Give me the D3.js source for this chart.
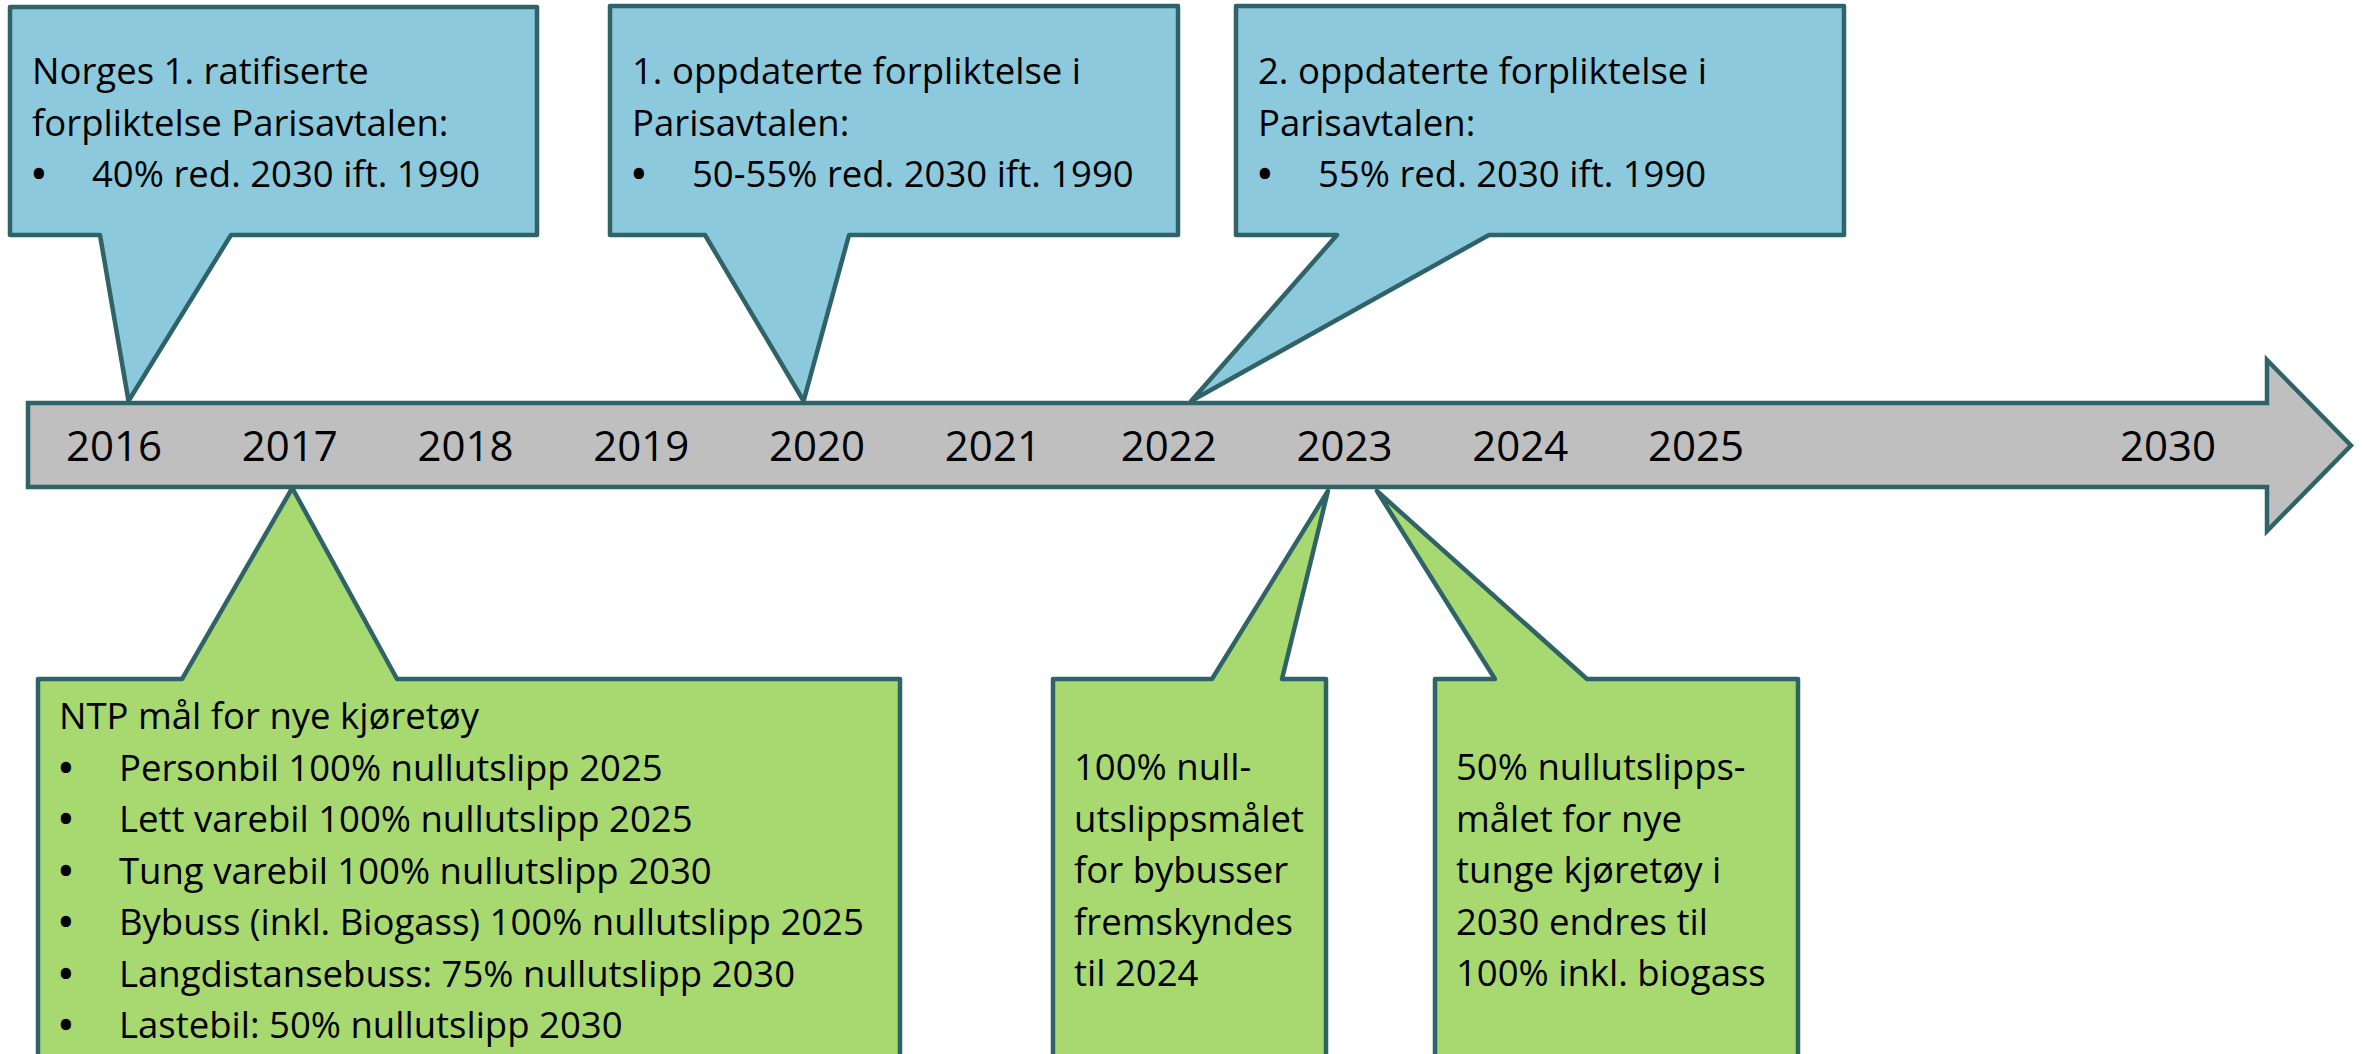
<!DOCTYPE html>
<html>
<head>
<meta charset="utf-8">
<script src="https://cdn.jsdelivr.net/npm/d3@7"></script>
<style>
    body { margin: 0; background: #fff; }
    svg { display: block; }
    text { font-family: "Open Sans", Lato, sans-serif; fill: #000; }
</style>
</head>
<body>
<div id="chart"></div>
<script>
// ---- data ----
const years = [2016, 2017, 2018, 2019, 2020, 2021, 2022, 2023, 2024, 2025, 2030];

const topYears = [2016, 2020, 2022];
const topHeads = [
    ["Norges 1. ratifiserte", "forpliktelse Parisavtalen:"],
    ["1. oppdaterte forpliktelse i", "Parisavtalen:"],
    ["2. oppdaterte forpliktelse i", "Parisavtalen:"]
];
const topBullets = [
    ["40% red. 2030 ift. 1990"],
    ["50-55% red. 2030 ift. 1990"],
    ["55% red. 2030 ift. 1990"]
];

const bottomYears = [2017, 2023, 2023];
const bottomHeads = [
    ["NTP mål for nye kjøretøy"],
    ["100% null-", "utslippsmålet", "for bybusser", "fremskyndes", "til 2024"],
    ["50% nullutslipps-", "målet for nye", "tunge kjøretøy i", "2030 endres til", "100% inkl. biogass"]
];
const bottomBullets = [
    ["Personbil 100% nullutslipp 2025",
     "Lett varebil 100% nullutslipp 2025",
     "Tung varebil 100% nullutslipp 2030",
     "Bybuss (inkl. Biogass) 100% nullutslipp 2025",
     "Langdistansebuss: 75% nullutslipp 2030",
     "Lastebil: 50% nullutslipp 2030"],
    [],
    []
];

// ---- layout ----
const width = 2364, height = 1054;
const stroke = "#2f6367";
const blue = "#8dc9dc";
const green = "#a7d970";
const lineH = 51.5;
const fontSize = 36.5;

const svg = d3.select("#chart").append("svg")
    .attr("width", width)
    .attr("height", height);

// timeline scale: evenly spaced to 2025, then a compressed jump to 2030
const x = d3.scaleLinear()
    .domain([2016, 2025, 2030])
    .range([113.5, 1695.5, 2167.5]);

const bar = { left: 28, right: 2267, top: 403, bottom: 487, headTop: 360, headBottom: 531, tip: 2351 };

// callout boxes (box geometry + pointer offsets from the year position)
const topBoxes = [
    { l: 10,   r: 537,  t: 7, b: 235, bl: 100,  br: 231,  dx: 15 },
    { l: 610,  r: 1178, t: 6, b: 235, bl: 705,  br: 849,  dx: -13 },
    { l: 1236, r: 1844, t: 6, b: 235, bl: 1337, br: 1489, dx: 23 }
];
const bottomBoxes = [
    { l: 38,   r: 900,  t: 679, b: 1070, bl: 182,  br: 397,  dx: 3 },
    { l: 1053, r: 1326, t: 679, b: 1070, bl: 1212, br: 1282, dx: -16 },
    { l: 1435, r: 1798, t: 679, b: 1070, bl: 1495, br: 1587, dx: 33 }
];

const calloutG = svg.append("g").attr("class", "callouts");

function addLines(g, heads, bullets, firstY) {
    heads.forEach((line, j) => {
        g.append("text").attr("x", 0).attr("y", firstY + j * lineH)
            .attr("font-size", fontSize).text(line);
    });
    bullets.forEach((line, j) => {
        const y = firstY + (heads.length + j) * lineH;
        g.append("text").attr("x", 0).attr("y", y).attr("font-size", fontSize)
            .attr("font-weight", 700).text("•");
        g.append("text").attr("x", 60).attr("y", y).attr("font-size", fontSize).text(line);
    });
}

// top callouts, pointer goes down to the bar
topBoxes.forEach((b, i) => {
    const tx = x(topYears[i]) + b.dx, ty = bar.top - 2;
    const p = d3.path();
    p.moveTo(b.l, b.t);
    p.lineTo(b.r, b.t);
    p.lineTo(b.r, b.b);
    p.lineTo(b.br, b.b);
    p.lineTo(tx, ty);
    p.lineTo(b.bl, b.b);
    p.lineTo(b.l, b.b);
    p.closePath();
    calloutG.append("path")
        .attr("d", p.toString())
        .attr("fill", blue)
        .attr("stroke", stroke)
        .attr("stroke-width", 4.5)
        .attr("stroke-linejoin", "round");

    const tg = calloutG.append("g").attr("transform", `translate(${b.l + 22}, 0)`);
    addLines(tg, topHeads[i], topBullets[i], 84);
});

// bottom callouts, pointer goes up to the bar
bottomBoxes.forEach((b, i) => {
    const tx = x(bottomYears[i]) + b.dx, ty = i === 0 ? bar.bottom + 1 : bar.bottom + 4;
    const p = d3.path();
    p.moveTo(b.l, b.t);
    p.lineTo(b.bl, b.t);
    p.lineTo(tx, ty);
    p.lineTo(b.br, b.t);
    p.lineTo(b.r, b.t);
    p.lineTo(b.r, b.b);
    p.lineTo(b.l, b.b);
    p.closePath();
    calloutG.append("path")
        .attr("d", p.toString())
        .attr("fill", green)
        .attr("stroke", stroke)
        .attr("stroke-width", 4.5)
        .attr("stroke-linejoin", "round");

    const tg = calloutG.append("g").attr("transform", `translate(${b.l + 21}, 0)`);
    addLines(tg, bottomHeads[i], bottomBullets[i], i === 0 ? 729 : 780);
});

// timeline arrow
const arrow = d3.path();
arrow.moveTo(bar.left, bar.top);
arrow.lineTo(bar.right, bar.top);
arrow.lineTo(bar.right, bar.headTop);
arrow.lineTo(bar.tip, (bar.headTop + bar.headBottom) / 2);
arrow.lineTo(bar.right, bar.headBottom);
arrow.lineTo(bar.right, bar.bottom);
arrow.lineTo(bar.left, bar.bottom);
arrow.closePath();

svg.append("path")
    .attr("d", arrow.toString())
    .attr("fill", "#bfbfbf")
    .attr("stroke", stroke)
    .attr("stroke-width", 4.5);

// year labels via axis
const axis = d3.axisBottom(x)
    .tickValues(years)
    .tickFormat(d3.format("d"))
    .tickSize(0);

const axisG = svg.append("g")
    .attr("transform", `translate(0, ${bar.top})`)
    .call(axis);

axisG.select(".domain").remove();
axisG.selectAll("text")
    .attr("y", 58)
    .attr("dy", null)
    .attr("font-family", "\"Open Sans\", sans-serif")
    .attr("font-size", 42)
    .attr("fill", "#000");
</script>
</body>
</html>
